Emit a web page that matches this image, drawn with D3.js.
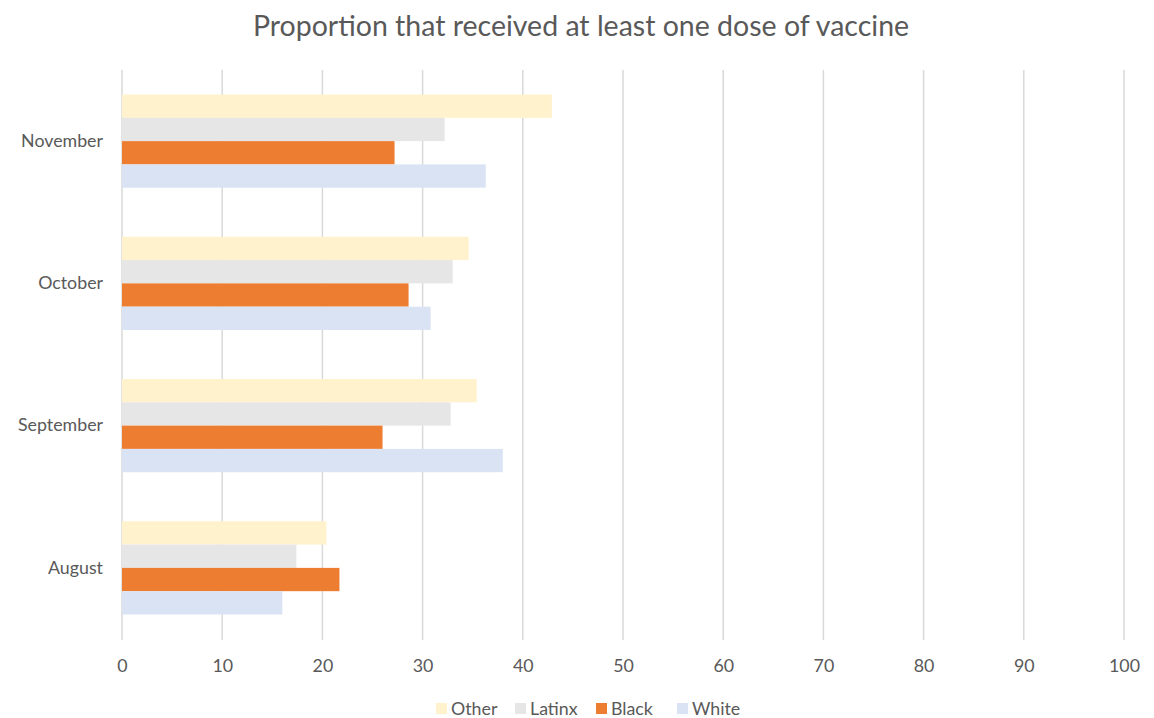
<!DOCTYPE html>
<html><head><meta charset="utf-8">
<script src="https://cdn.jsdelivr.net/npm/d3@7"></script>
<style>body{margin:0;background:#fff}</style>
</head><body>
<svg id="c" width="1154" height="718"></svg>
<script>
const months = ["November","October","September","August"];
const series = ["Other","Latinx","Black","White"];
const colors = ["#FFF2CC","#E7E6E6","#ED7D31","#DAE3F3"];
const other  = [42.9, 34.6, 35.4, 20.4];
const latinx = [32.2, 33.0, 32.8, 17.4];
const black  = [27.2, 28.6, 26.0, 21.7];
const white  = [36.3, 30.8, 38.0, 16.0];
const xTicks = [0,10,20,30,40,50,60,70,80,90,100];
const title = "Proportion that received at least one dose of vaccine";

(function(){
const values = [other, latinx, black, white];
const svg = d3.select("#c");
const font = "Lato, 'Open Sans', sans-serif";
const L = 122, R = 1124, T = 70, B = 639;
const fs = 17.8;

const x = d3.scaleLinear().domain([0,100]).range([L,R]);
const y = d3.scaleBand().domain(months).range([T,B]).paddingInner(0.345).paddingOuter(0.1725);
const ys = d3.scaleBand().domain(series).range([0,y.bandwidth()]);

svg.append("text").attr("x",581).attr("y",36).attr("text-anchor","middle")
  .attr("font-family",font).attr("font-size",28.5).attr("fill","#595959").text(title);

// gridlines
svg.append("g").selectAll("line").data(xTicks).join("line")
  .attr("x1",d=>x(d)).attr("x2",d=>x(d)).attr("y1",T).attr("y2",B+1)
  .attr("stroke","#d9d9d9").attr("stroke-width",1.5);

// bars
months.forEach((m,i)=>{
  svg.append("g").selectAll("rect").data(series).join("rect")
    .attr("x",x(0)).attr("y",(s)=>y(m)+ys(s))
    .attr("width",(s,j)=>x(values[j][i])-x(0)).attr("height",ys.bandwidth())
    .attr("fill",(s,j)=>colors[j]);
});

// x axis labels
const xa = svg.append("g").attr("transform",`translate(0,${B})`)
  .call(d3.axisBottom(x).tickValues(xTicks).tickSize(0).tickPadding(20));
xa.select(".domain").remove();
xa.selectAll("text").attr("font-family",font).attr("font-size",fs).attr("fill","#595959");

// y axis labels
const ya = svg.append("g").attr("transform",`translate(${L},0)`)
  .call(d3.axisLeft(y).tickSize(0).tickPadding(19));
ya.select(".domain").remove();
ya.selectAll("text").attr("font-family",font).attr("font-size",fs).attr("fill","#595959");

// legend
const legX = [436, 515, 596, 677];
const lg = svg.append("g");
series.forEach((s,i)=>{
  lg.append("rect").attr("x",legX[i]).attr("y",703).attr("width",11).attr("height",11).attr("fill",colors[i]);
  lg.append("text").attr("x",legX[i]+15).attr("y",714.5).attr("font-family",font).attr("font-size",fs)
    .attr("fill","#595959").text(s);
});
})();
</script>
</body></html>
